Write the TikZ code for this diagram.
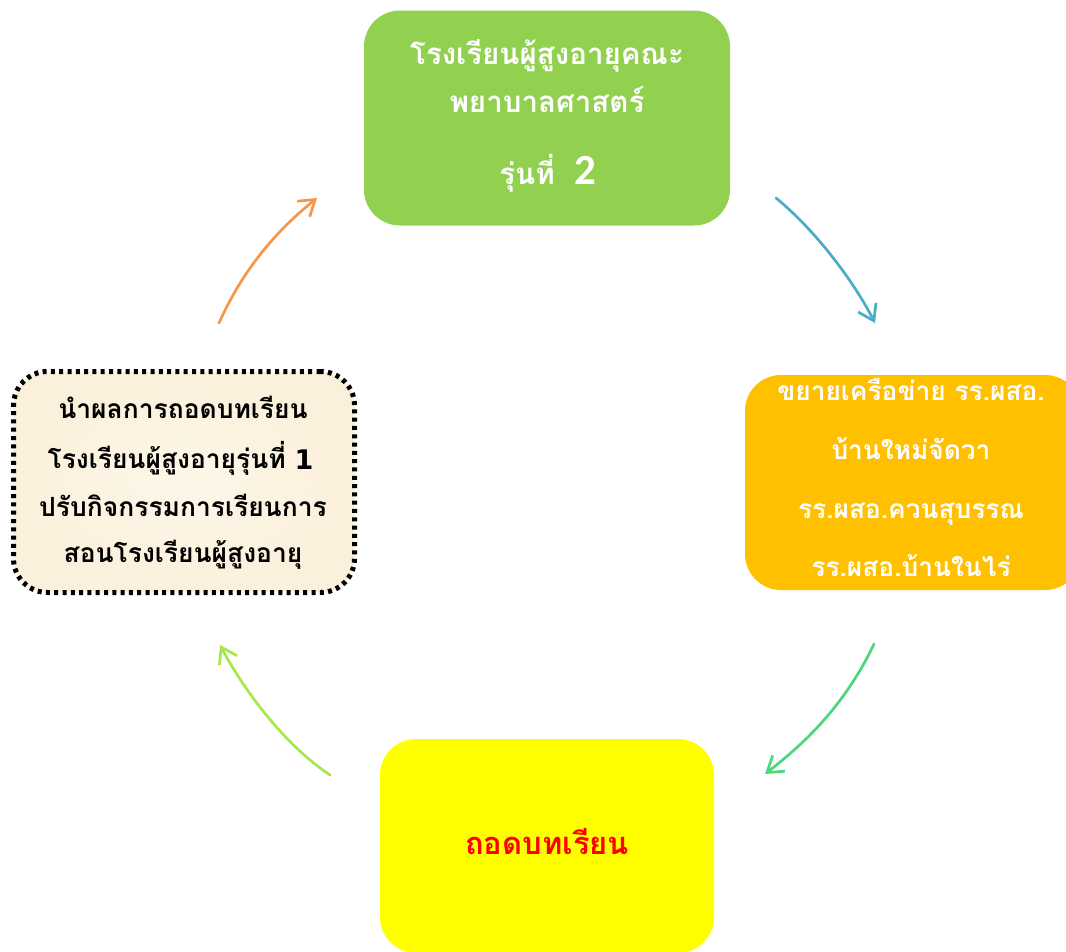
\documentclass[tikz,border=0pt]{standalone}
\usepackage{fontspec}
\setmainfont{Liberation Sans}
\newfontfamily\thaifont[Script=Thai]{Loma}
\newfontfamily\digitfont{Carlito}
\newfontfamily\numfont{DejaVu Sans}
\usetikzlibrary{arrows.meta}
\definecolor{cgreen}{HTML}{92D050}
\definecolor{corange}{HTML}{FFC000}
\definecolor{cyellow}{HTML}{FFFF00}
\definecolor{cparchin}{HTML}{FDF6E8}
\definecolor{cparchout}{HTML}{FBF0DB}
\definecolor{aorange}{HTML}{F79646}
\definecolor{ablue}{HTML}{4BACC6}
\definecolor{agreen}{HTML}{4BD77A}
\definecolor{alime}{HTML}{A6E84B}
\tikzset{
  x=1pt,y=-1pt,
  box/.style={rounded corners=36pt,inner sep=0pt,minimum width=#1},
  txt/.style={anchor=base,inner sep=0pt},
  toptxt/.style={txt,text=white,font=\thaifont\bfseries\fontsize{29.5}{29.5}\selectfont},
  righttxt/.style={txt,text=white,font=\thaifont\bfseries\fontsize{26.3}{26.3}\selectfont},
  ktxt/.style={txt,text=black,font=\thaifont\bfseries\fontsize{26.4}{26.4}\selectfont},
  arc/.style={line width=2.7pt,line cap=round,-{Straight Barb[length=15pt,width=20pt,line width=2.7pt]}},
}
\begin{document}
\begin{tikzpicture}
\useasboundingbox (0,0) rectangle (1066,951);
% boxes
\node[box=366pt,minimum height=215pt,fill=cgreen] (top) at (547,118) {};
\node[box=336pt,minimum height=215pt,fill=corange] (right) at (913,482.5) {};
\node[box=334pt,minimum height=214pt,fill=cyellow] (bottom) at (547,846) {};
\node[box=341pt,minimum height=221pt,inner color=cparchin,outer color=cparchout,rounded corners=34pt,draw=black,line width=5pt,dash pattern=on 4pt off 4.3pt] (left) at (184,482) {};
% top text
\node[toptxt] (t1) at (547,64) {โรงเรียนผู้สูงอายุคณะ};
\node[toptxt] (t2) at (547,112) {พยาบาลศาสตร์};
\node[toptxt] (t3) at (527,184) {รุ่นที่};
\node[toptxt,font=\digitfont\bfseries\fontsize{43}{43}\selectfont] (t4) at (585,184) {2};
% right text
\node[righttxt] (r1) at (911,400) {ขยายเครือข่าย รร.ผสอ.};
\node[righttxt] (r2) at (911,459) {บ้านใหม่จัดวา};
\node[righttxt] (r3) at (911,518) {รร.ผสอ.ควนสุบรรณ};
\node[righttxt] (r4) at (911,576) {รร.ผสอ.บ้านในไร่};
% bottom text
\node[txt,text=red,font=\thaifont\bfseries\fontsize{30.9}{30.9}\selectfont] (b1) at (547,854) {ถอดบทเรียน};
% left text
\node[ktxt] (l1) at (183,418) {นำผลการถอดบทเรียน};
\node[ktxt,anchor=base east] (l2) at (286,468) {โรงเรียนผู้สูงอายุรุ่นที่};
\node[ktxt,font=\numfont\bfseries\fontsize{27}{27}\selectfont] (l2b) at (304,469) {1};
\node[ktxt] (l3) at (183,516) {ปรับกิจกรรมการเรียนการ};
\node[ktxt] (l4) at (183,562) {สอนโรงเรียนผู้สูงอายุ};
% connectors
\coordinate (a1s) at (219,323); \coordinate (a1e) at (317,198);
\coordinate (a2s) at (776,198); \coordinate (a2e) at (875,323);
\coordinate (a3s) at (874,644); \coordinate (a3e) at (765,774);
\coordinate (a4s) at (330,775); \coordinate (a4e) at (220,645);
\draw[arc,aorange] (a1s) .. controls (245,265) and (280,228) .. (a1e);
\draw[arc,ablue] (a2s) .. controls (815,230) and (853,280) .. (a2e);
\draw[arc,agreen] (a3s) .. controls (845,705) and (805,743) .. (a3e);
\draw[arc,alime] (a4s) .. controls (285,745) and (245,692) .. (a4e);
\end{tikzpicture}
\end{document}
